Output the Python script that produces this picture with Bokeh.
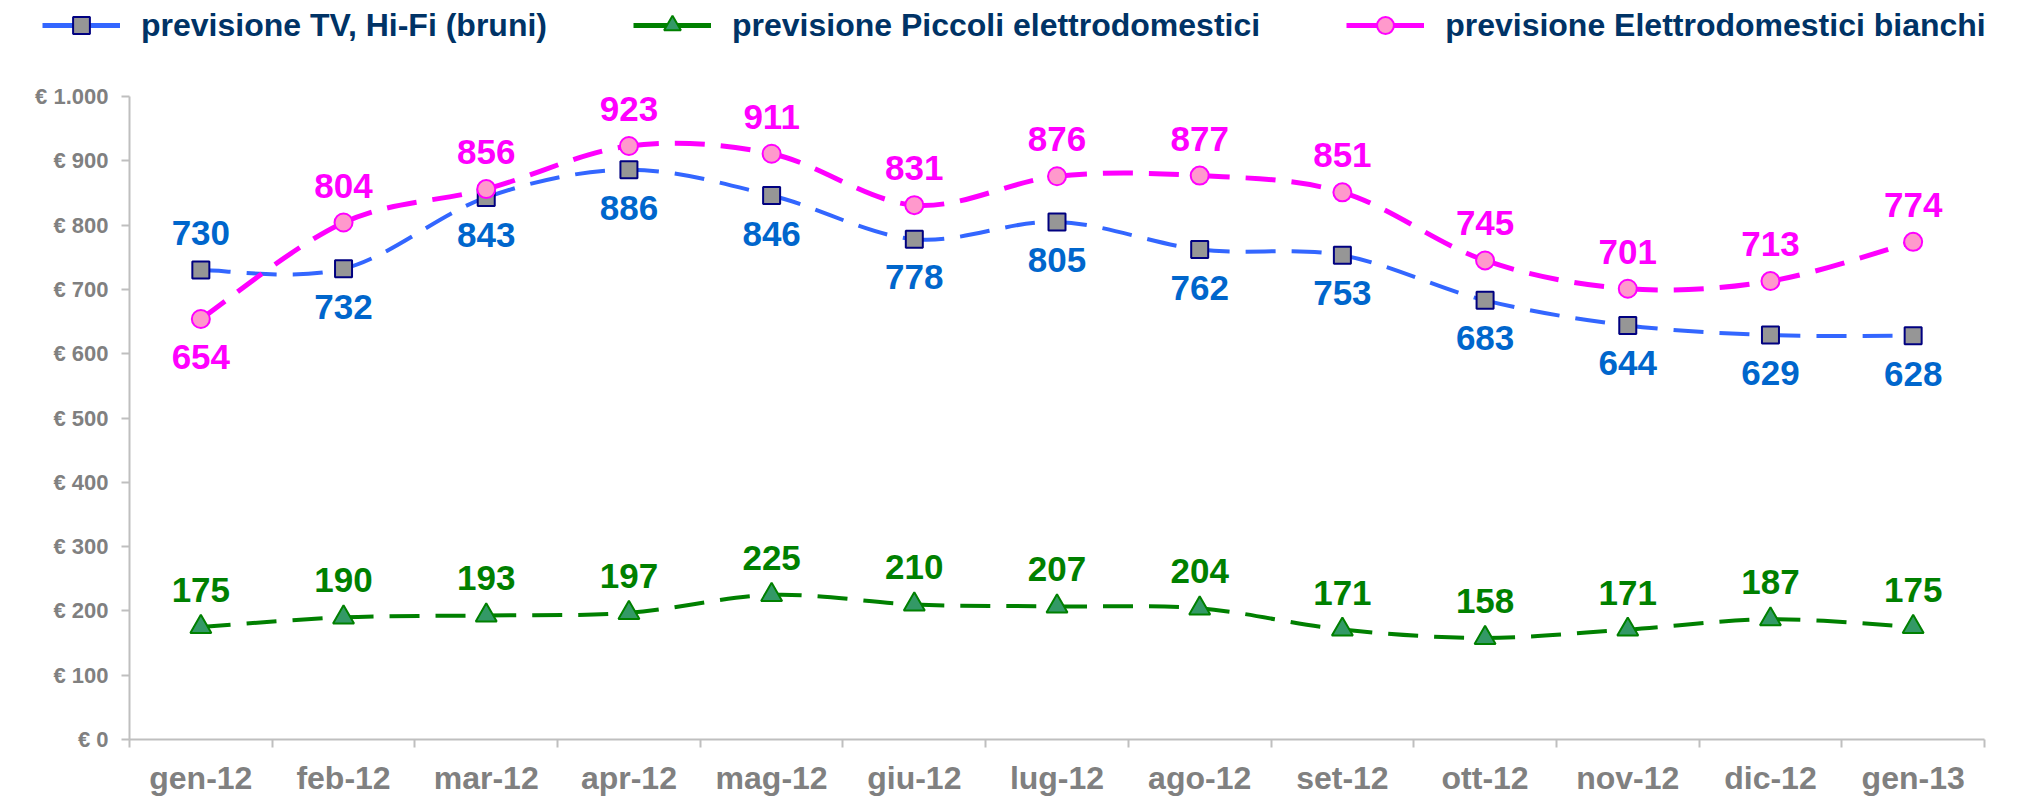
import numpy as np
from bokeh.plotting import figure
from bokeh.models import (ColumnDataSource, Range1d, FixedTicker, Legend, LegendItem)
from bokeh.core.properties import value
from bokeh.embed import file_html
from bokeh.resources import INLINE

# ---------------- data ----------------
months = ["gen-12", "feb-12", "mar-12", "apr-12", "mag-12", "giu-12", "lug-12",
          "ago-12", "set-12", "ott-12", "nov-12", "dic-12", "gen-13"]
tv_hifi = [730, 732, 843, 886, 846, 778, 805, 762, 753, 683, 644, 629, 628]
piccoli = [175, 190, 193, 197, 225, 210, 207, 204, 171, 158, 171, 187, 175]
bianchi = [654, 804, 856, 923, 911, 831, 876, 877, 851, 745, 701, 713, 774]
# label placement: 1 = above the point, -1 = below
tv_pos = [1, -1, -1, -1, -1, -1, -1, -1, -1, -1, -1, -1, -1]
piccoli_pos = [1] * 13
bianchi_pos = [-1, 1, 1, 1, 1, 1, 1, 1, 1, 1, 1, 1, 1]

y_ticks = [0, 100, 200, 300, 400, 500, 600, 700, 800, 900, 1000]
y_tick_labels = ["€ 0", "€ 100", "€ 200", "€ 300", "€ 400", "€ 500", "€ 600",
                 "€ 700", "€ 800", "€ 900", "€ 1.000"]

series_names = ["previsione TV, Hi-Fi (bruni)",
                "previsione Piccoli elettrodomestici",
                "previsione Elettrodomestici bianchi"]

FONT = "Liberation Sans"

n = len(months)
xc = np.arange(n) + 0.5          # category centres on a numeric axis

LEG_H = 80
FRAME_H = 643
p = figure(frame_width=1855, frame_height=FRAME_H, output_backend="svg",
           toolbar_location=None,
           x_range=Range1d(0, n), y_range=Range1d(0, 1000),
           min_border_left=129, min_border_right=33, min_border_top=96 - LEG_H,
           min_border_bottom=50)
p.outline_line_color = None
p.xgrid.visible = False
p.ygrid.visible = False
p.background_fill_color = "white"
p.border_fill_color = "white"

# ---- axes ----
AX = "#BFBFBF"
xa = p.xaxis[0]
xa.ticker = FixedTicker(ticks=list(xc), minor_ticks=list(range(n + 1)))
xa.major_label_overrides = {float(x): m for x, m in zip(xc, months)}
xa.major_tick_line_color = None
xa.major_tick_out = 8
xa.major_tick_in = 0
xa.minor_tick_line_color = AX
xa.minor_tick_line_width = 2
xa.minor_tick_out = 8
xa.minor_tick_in = 0
xa.axis_line_color = AX
xa.axis_line_width = 2
xa.major_label_text_font = FONT
xa.major_label_text_font_style = "bold"
xa.major_label_text_font_size = "32px"
xa.major_label_text_line_height = 1.0
xa.major_label_text_color = "#808080"
xa.major_label_standoff = 12

ya = p.yaxis[0]
ya.ticker = FixedTicker(ticks=y_ticks, minor_ticks=[])
ya.major_label_overrides = {t: l for t, l in zip(y_ticks, y_tick_labels)}
ya.major_tick_line_color = AX
ya.major_tick_line_width = 2
ya.major_tick_out = 8
ya.major_tick_in = 0
ya.minor_tick_line_color = None
ya.axis_line_color = AX
ya.axis_line_width = 2
ya.major_label_text_font = FONT
ya.major_label_text_font_style = "bold"
ya.major_label_text_font_size = "22px"
ya.major_label_text_color = "#808080"
ya.major_label_standoff = 13


def smooth_segments(vals):
    """Excel-like smoothed line: cubic Bezier control points (Catmull-Rom)."""
    y = np.asarray(vals, dtype=float)
    xp = np.concatenate([[xc[0]], xc, [xc[-1]]])
    yp = np.concatenate([[y[0]], y, [y[-1]]])
    d = dict(x0=[], y0=[], x1=[], y1=[], cx0=[], cy0=[], cx1=[], cy1=[])
    for i in range(n - 1):
        p0x, p1x, p2x, p3x = xp[i], xp[i + 1], xp[i + 2], xp[i + 3]
        p0y, p1y, p2y, p3y = yp[i], yp[i + 1], yp[i + 2], yp[i + 3]
        d["x0"].append(p1x); d["y0"].append(p1y)
        d["x1"].append(p2x); d["y1"].append(p2y)
        d["cx0"].append(p1x + (p2x - p0x) / 6.0)
        d["cy0"].append(p1y + (p2y - p0y) / 6.0)
        d["cx1"].append(p2x - (p3x - p1x) / 6.0)
        d["cy1"].append(p2y - (p3y - p1y) / 6.0)
    return ColumnDataSource(d)


styles = [
    dict(vals=tv_hifi, pos=tv_pos, line="#3366FF", lw=4, marker="square", size=17,
         fill="#969696", mline="#000080", label_color="#0066CC"),
    dict(vals=piccoli, pos=piccoli_pos, line="#008000", lw=4, marker="triangle", size=21,
         fill="#339966", mline="#008000", label_color="#008000"),
    dict(vals=bianchi, pos=bianchi_pos, line="#FF00FF", lw=5, marker="circle", size=18,
         fill="#FF99CC", mline="#FF00FF", label_color="#FF00FF"),
]

# separate strip (own root) that carries the legend above the chart
lg = figure(width=2017, height=LEG_H, output_backend="svg", toolbar_location=None,
            x_range=Range1d(0, 1), y_range=Range1d(0, 1),
            min_border_left=0, min_border_right=0, min_border_top=0,
            min_border_bottom=0, x_axis_location=None, y_axis_location=None)
lg.outline_line_color = None
lg.xgrid.visible = False
lg.ygrid.visible = False
lg.background_fill_color = "white"
lg.border_fill_color = "white"

items = []
for name, st in zip(series_names, styles):
    seg = smooth_segments(st["vals"])
    p.bezier(x0="x0", y0="y0", x1="x1", y1="y1", cx0="cx0", cy0="cy0",
             cx1="cx1", cy1="cy1", source=seg, line_color=st["line"],
             line_width=st["lw"], line_dash="30 16")
    src = ColumnDataSource(dict(x=xc, y=st["vals"],
                                txt=[str(v) for v in st["vals"]],
                                off=[-37 if q > 0 else 38 for q in st["pos"]]))
    p.scatter(x="x", y="y", source=src, marker=st["marker"], size=st["size"],
              fill_color=st["fill"], line_color=st["mline"], line_width=2)
    p.text(x="x", y="y", text="txt", y_offset="off", source=src,
           text_align="center", text_baseline="middle",
           text_font=value(FONT), text_font_style="bold",
           text_font_size="35px", text_color=st["label_color"])
    # legend swatches: proxies with a single missing value (nothing drawn in the strip)
    l_line = lg.line(x=[np.nan], y=[np.nan], line_color=st["line"], line_width=5)
    l_mark = lg.scatter(x=[np.nan], y=[np.nan], marker=st["marker"], size=st["size"],
                        fill_color=st["fill"], line_color=st["mline"], line_width=2)
    items.append(LegendItem(label=name, renderers=[l_line, l_mark]))

legend = Legend(items=items, orientation="horizontal", location=(42, LEG_H - 4 - 42),
                glyph_width=78, glyph_height=42, label_standoff=21, spacing=86,
                padding=0, margin=0, border_line_color=None,
                background_fill_alpha=0,
                label_text_font=FONT, label_text_font_style="bold",
                label_text_font_size="32px", label_text_color="#003366")
lg.add_layout(legend, "center")

open("out.html", "w").write(file_html([lg, p], INLINE))
